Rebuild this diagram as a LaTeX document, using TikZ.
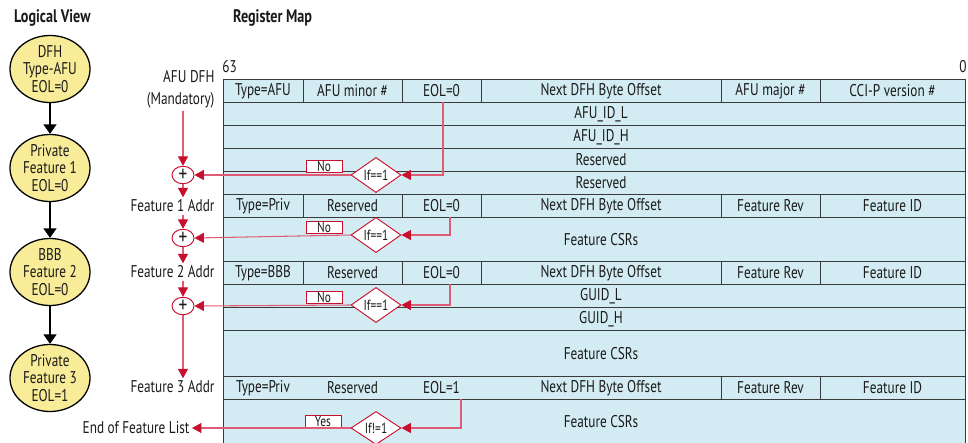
\documentclass[tikz,border=0pt]{standalone}
\usepackage{fontspec}
\setmainfont{PT Sans}[FakeStretch=0.78]
\usepackage{xcolor}
\usepackage{tikz}
\usetikzlibrary{arrows.meta, shapes.geometric}
\definecolor{mapblue}{HTML}{D3ECF3}
\definecolor{nodeyellow}{HTML}{F9EC98}
\definecolor{flowred}{HTML}{E05C76}
\definecolor{tipred}{HTML}{C8102E}
\definecolor{gridgray}{HTML}{3A3A3A}
\definecolor{darkslate}{HTML}{1A1A1A}
\colorlet{darktext}{darkslate}
\newcommand{\regfont}{\fontsize{14.5}{15}\selectfont}
\newcommand{\testfont}{\fontsize{12.5}{12}\selectfont}
\tikzset{every node/.append style={font=\regfont, text=darktext}}

\begin{document}
\begin{tikzpicture}[x=0.03cm, y=-0.03cm, >=Triangle,
    title/.style={anchor=west, font=\fontsize{15.5}{18}\selectfont\bfseries},
    lview/.style={ellipse, draw=black, line width=1.1pt, fill=nodeyellow, minimum width=2.4cm, minimum height=1.95cm, inner sep=0pt, align=center},
    chain/.style={draw=black, line width=1pt, -{Triangle[length=8pt, width=11pt]}},
    grid/.style={draw=gridgray, line width=0.8pt},
    tag/.style={anchor=east, align=right, inner sep=2pt, font=\fontsize{14.5}{19}\selectfont},
    joinpt/.style={ellipse, draw=tipred, fill=white, line width=0.8pt, minimum width=0.66cm, minimum height=0.45cm, inner sep=0pt, font=\fontsize{19}{19}\selectfont},
    test/.style={diamond, draw=tipred, fill=white, line width=0.8pt, minimum width=1.5cm, minimum height=0.9cm, inner sep=0pt, font=\testfont},
    flag/.style={draw=tipred, fill=white, line width=0.8pt, minimum width=1.08cm, minimum height=0.36cm, inner sep=0pt, font=\testfont},
    flow/.style={draw=flowred, line width=0.9pt, -{Triangle[color=tipred, length=8pt, width=8.5pt]}}]
    \useasboundingbox (0,0) rectangle (968,443);

    % Titles
    \node[title] (lvtitle) at (10,18) {Logical View};
    \node[title] (rmtitle) at (229,18) {Register Map};

    % Logical view chain
    \node[lview] (lvA) at (50,69) {DFH\\Type-AFU\\EOL=0};
    \node[lview] (lvB) at (50,168) {Private\\Feature 1\\EOL=0};
    \node[lview] (lvC) at (50,272) {BBB\\Feature 2\\EOL=0};
    \node[lview] (lvD) at (50,378) {Private\\Feature 3\\EOL=1};
    \draw[chain] (lvA) -- (lvB);
    \draw[chain] (lvB) -- (lvC);
    \draw[chain] (lvC) -- (lvD);

    % Register map body
    \fill[mapblue] (223,79) rectangle (965,443);
    \draw[grid] (223,443) -- (223,79) -- (965,79) -- (965,443);
    \draw[grid] (223,102) -- (965,102) (223,125) -- (965,125) (223,148) -- (965,148)
        (223,171) -- (965,171) (223,194) -- (965,194) (223,217) -- (965,217)
        (223,261) -- (965,261) (223,284) -- (965,284) (223,307) -- (965,307)
        (223,330) -- (965,330) (223,376) -- (965,376) (223,399) -- (965,399);
    \draw[grid] (303,79) -- (303,102) (402,79) -- (402,102) (481,79) -- (481,102)
        (721,79) -- (721,102) (820,79) -- (820,102);
    \draw[grid] (303,194) -- (303,217) (402,194) -- (402,217) (481,194) -- (481,217)
        (721,194) -- (721,217) (820,194) -- (820,217);
    \draw[grid] (303,261) -- (303,284) (402,261) -- (402,284) (481,261) -- (481,284)
        (721,261) -- (721,284) (820,261) -- (820,284);
    \draw[grid] (721,376) -- (721,399) (820,376) -- (820,399);
    \node[anchor=south west, inner sep=1pt] (msb) at (221,74) {63};
    \node[anchor=south east, inner sep=1pt] (lsb) at (968,74) {0};

    % AFU header
    \node (afutype) at (263,91) {Type=AFU};
    \node (afuminor) at (352.5,91) {AFU minor \#};
    \node (afueol) at (441.5,91) {EOL=0};
    \node (afunext) at (601,91) {Next DFH Byte Offset};
    \node (afumajor) at (770.5,91) {AFU major \#};
    \node (afuccip) at (892.5,91) {CCI-P version \#};
    \node (afuidl) at (601,114) {AFU\_ID\_L};
    \node (afuidh) at (601,137) {AFU\_ID\_H};
    \node (afuresA) at (601,160) {Reserved};
    \node (afuresB) at (601,183) {Reserved};

    % Feature 1 header
    \node (onetype) at (263,206) {Type=Priv};
    \node (oneres) at (352.5,206) {Reserved};
    \node (oneeol) at (441.5,206) {EOL=0};
    \node (onenext) at (601,206) {Next DFH Byte Offset};
    \node (onerev) at (770.5,206) {Feature Rev};
    \node (oneid) at (892.5,206) {Feature ID};
    \node (onecsr) at (601,240) {Feature CSRs};

    % Feature 2 header
    \node (twotype) at (263,273) {Type=BBB};
    \node (twores) at (352.5,273) {Reserved};
    \node (twoeol) at (441.5,273) {EOL=0};
    \node (twonext) at (601,273) {Next DFH Byte Offset};
    \node (tworev) at (770.5,273) {Feature Rev};
    \node (twoid) at (892.5,273) {Feature ID};
    \node (twoguidl) at (601,296) {GUID\_L};
    \node (twoguidh) at (601,319) {GUID\_H};
    \node (twocsr) at (601,354) {Feature CSRs};

    % Feature 3 header
    \node (threetype) at (263,388) {Type=Priv};
    \node (threeres) at (352.5,388) {Reserved};
    \node (threeeol) at (441.5,388) {EOL=1};
    \node (threenext) at (601,388) {Next DFH Byte Offset};
    \node (threerev) at (770.5,388) {Feature Rev};
    \node (threeid) at (892.5,388) {Feature ID};
    \node (threecsr) at (601,422) {Feature CSRs};

    % Address walk
    \node[tag] (afudfh) at (217,89) {AFU DFH\\(Mandatory)};
    \node[joinpt] (joinA) at (183,175) {+};
    \node[tag] (featA) at (217,206) {Feature 1 Addr};
    \node[joinpt] (joinB) at (183,238) {+};
    \node[tag] (featB) at (217,272) {Feature 2 Addr};
    \node[joinpt] (joinC) at (183,306) {+};
    \node[tag] (featC) at (217,387) {Feature 3 Addr};
    \node[tag] (endlist) at (192,428) {End of Feature List};

    % EOL checks
    \node[test] (testA) at (376,175) {If==1};
    \node[test] (testB) at (376,235) {If==1};
    \node[test] (testC) at (376,305) {If==1};
    \node[test] (testD) at (376,428) {If!=1};
    \node[flag] (flagA) at (324,166.5) {No};
    \node[flag] (flagB) at (324,227) {No};
    \node[flag] (flagC) at (324,297) {No};
    \node[flag] (flagD) at (323,421) {Yes};
    \coordinate (tapA) at (443,102);
    \coordinate (tapB) at (450,217);
    \coordinate (tapC) at (450,284);
    \coordinate (tapD) at (461,399);

    \draw[flow] (tapA) |- (testA.east);
    \draw[flow] (tapB) |- (testB.east);
    \draw[flow] (tapC) |- (testC.east);
    \draw[flow] (tapD) |- (testD.east);
    \draw[flow] (testA.west) -- (joinA.east);
    \draw[flow] (testB.west) -- (joinB.east);
    \draw[flow] (testC.west) -- (joinC.east);
    \draw[flow] (testD.west) -- (endlist.east);

    \draw[flow] (afudfh.south -| joinA) -- (joinA.north);
    \draw[flow] (joinA.south) -- (joinA |- featA.north);
    \draw[flow] (joinB |- featA.south) -- (joinB.north);
    \draw[flow] (joinB.south) -- (joinB |- featB.north);
    \draw[flow] (joinC |- featB.south) -- (joinC.north);
    \draw[flow] (joinC.south) -- (joinC |- featC.north);
\end{tikzpicture}
\end{document}
